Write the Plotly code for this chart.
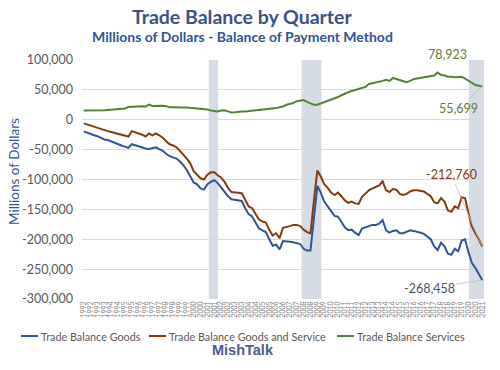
import plotly.graph_objects as go

# ---------------- data (millions of dollars, quarterly 1992Q1 - 2021Q1) ----------------
years = list(range(1992, 2022))
quarters = [f"{y} Q{q}" for y in years for q in (1, 2, 3, 4)][:117]

goods_k = [
    -19.5, -22, -23.5, -26, -27.5, -30, -33, -34, -36.5, -38,
    -41, -43, -45, -47, -41, -43, -45, -47, -48, -49,
    -47, -46, -49, -52, -57, -61, -63, -65, -70, -76,
    -84, -95, -105, -108, -115, -117, -108, -104, -101, -106,
    -113, -120, -128, -133, -134, -134, -136, -148, -158, -162,
    -172, -182, -185, -188, -200, -211, -209, -217, -203, -203,
    -204, -205, -207, -208, -216, -219, -219, -165, -111, -122,
    -137, -145, -153, -161, -162, -170, -180, -185, -184, -189,
    -193, -182, -180, -178, -176, -176, -174, -168, -185, -189,
    -186, -185, -190, -190, -188, -185, -186, -187, -189, -191,
    -195, -200, -212, -218, -206, -212, -224, -226, -216, -220,
    -202, -200, -222, -240, -248, -258, -268.458,
]
goods_services_k = [
    -6, -8, -10, -12, -14, -15.5, -17.5, -19, -20.5, -22,
    -23.5, -25, -27, -28, -19, -21, -22, -25, -28, -23,
    -26, -23, -26, -30, -36, -41, -43, -46, -52, -58,
    -65, -73, -86, -92, -98, -100, -92, -88, -88, -93,
    -97, -104, -114, -121, -121, -122, -123, -135, -145, -148,
    -157, -167, -170, -172, -184, -194, -190, -198, -181, -180,
    -178, -176, -176, -178, -184, -188, -190, -135, -85, -95,
    -108, -114, -122, -126, -122, -128, -135, -139, -137, -140,
    -141, -129, -124, -118, -115, -112, -110, -103, -118, -121,
    -116, -117, -124, -126, -124, -120, -118, -118, -119, -120,
    -124, -128, -138, -140, -131, -137, -152, -154, -145, -148,
    -130, -131, -157, -179, -190, -200, -212.760,
]
services_k = [
    15.5, 15.5, 15, 15, 15.5, 16, 16, 16.5, 17, 18,
    18, 18.5, 19, 21.5, 22, 22.5, 23, 22.5, 22, 25.5,
    23, 23.5, 24, 23.5, 22.5, 21, 21, 20.5, 20, 20.5,
    20.5, 20, 20, 19.5, 18.5, 18, 17, 15.5, 14.5, 14,
    15.5, 16, 14, 12, 12.5, 13.5, 14, 14, 14.5, 15,
    16.5, 17, 17, 17.5, 18, 19, 19.5, 21, 22, 25,
    26, 28, 31, 32.5, 33, 30, 28, 25, 25, 27,
    29, 31, 34, 36, 38, 41, 44, 46, 48, 50,
    51, 53, 55, 60, 61, 63, 64, 65, 67, 65,
    70, 68, 66, 64, 63, 65, 68, 69, 70, 71,
    71, 72, 74, 78.923, 75, 74, 72, 72, 71, 71.5,
    72, 69, 65, 61, 58, 57, 55.699,
]
goods = [v * 1000 for v in goods_k]
goods_services = [v * 1000 for v in goods_services_k]
services = [v * 1000 for v in services_k]

# recession periods (quarter category index spans)
recessions = [(36.4, 39.1), (63.4, 69.2), (112.1, 116.5)]

y_ticks = [100000, 50000, 0, -50000, -100000, -150000, -200000, -250000, -300000]

series_names = ["Trade Balance Goods", "Trade Balance Goods and Service", "Trade Balance Services"]
series_colors = ["#2F5597", "#843C0C", "#548235"]

# ---------------- figure ----------------
PL, PR, PT, PB = 82, 484, 60, 299          # plot area in window pixels
W, H = 500, 370
L, T = PL, PT
R = W - PR
B = H - PB
pw, ph = PR - PL, PB - PT


def px(xp):
    return (xp - PL) / pw


def py(yp):
    return (PB - yp) / ph


FONT = "Lato"
fig = go.Figure()
for name, vals, col in zip(series_names, [goods, goods_services, services], series_colors):
    fig.add_trace(go.Scatter(x=quarters, y=vals, mode="lines", name=name,
                             line=dict(color=col, width=2), showlegend=False))

for x0, x1 in recessions:
    fig.add_shape(type="rect", xref="x", yref="paper", x0=x0, x1=x1, y0=0, y1=1,
                  fillcolor="#D6DCE5", line=dict(width=0), layer="between")


def ptext(text, xp, yp, size, color, family=FONT, xanchor="center", **kw):
    return dict(text=text, xref="paper", yref="paper", x=px(xp), y=py(yp), showarrow=False,
                xanchor=xanchor, yanchor="middle",
                font=dict(family=family, size=size, color=color), **kw)


annotations = [
    ptext("<b>Trade Balance by Quarter</b>", 242, 17, 19.5, "#3A5284"),
    ptext("<b>Millions of Dollars - Balance of Payment Method</b>", 242, 37, 14, "#2F5597"),
    ptext("Millions of Dollars", 14, 172, 13.5, "#2F5597", textangle=-90),
    ptext("<b>MishTalk</b>", 243, 350, 14.5, "#4A5C8C", family="Liberation Sans"),
]

# data labels
lab_font = dict(family=FONT, size=12.5)
annotations.append(dict(text="78,923", x=quarters[103], y=services[103], xref="x", yref="y",
                        showarrow=False, yshift=18, xshift=10, xanchor="center", yanchor="middle",
                        font=dict(lab_font, color="#5B7F35")))
annotations.append(dict(text="55,699", x=quarters[116], y=services[116], xref="x", yref="y",
                        showarrow=True, arrowhead=0, arrowwidth=0.8, arrowcolor="#BFBFBF",
                        ax=-24, ay=22, font=dict(lab_font, color="#5B7F35")))
annotations.append(dict(text="-212,760", x=quarters[116], y=goods_services[116], xref="x", yref="y",
                        showarrow=True, arrowhead=0, arrowwidth=0.8, arrowcolor="#BFBFBF",
                        ax=-31, ay=-72, font=dict(lab_font, color="#843C0C")))
annotations.append(dict(text="-268,458", x=quarters[116], y=goods[116], xref="x", yref="y",
                        showarrow=True, arrowhead=0, arrowwidth=0.8, arrowcolor="#BFBFBF",
                        ax=-53, ay=8, font=dict(lab_font, color="#44546A")))

# manual legend
leg_items = [(21, series_names[0]), (149, series_names[1]), (337, series_names[2])]
for (x0, name), col in zip(leg_items, series_colors):
    fig.add_shape(type="line", xref="paper", yref="paper", x0=px(x0), x1=px(x0 + 17),
                  y0=py(336), y1=py(336), line=dict(color=col, width=2))
    annotations.append(ptext(name, x0 + 18, 336, 10.8, "#595959", xanchor="left"))

fig.update_layout(
    width=W, height=H, margin=dict(l=L, r=R, t=T, b=B, autoexpand=False),
    paper_bgcolor="white", plot_bgcolor="white",
    annotations=annotations, showlegend=False, hovermode=False,
    xaxis=dict(type="category", categoryorder="array", categoryarray=quarters,
               range=[-0.5, 116.5], tickmode="array", tickvals=quarters[::2],
               ticktext=[q[:4] for q in quarters[::2]], tickangle=-90, automargin=False,
               tickfont=dict(family=FONT, size=7, color="#7F7F7F"),
               showgrid=False, showline=False, ticks="", zeroline=False),
    yaxis=dict(range=[-300000, 100000], tickmode="array", tickvals=y_ticks,
               ticktext=[f"{v:,}" for v in y_ticks], showgrid=True, gridcolor="#D9D9D9",
               gridwidth=1, zeroline=False, showline=False, ticks="", automargin=False,
               ticklabelstandoff=8,
               tickfont=dict(family=FONT, size=12.5, color="#595959")),
)

# remove the browser's default 8px body margin so the 500x370 figure fills the window
fig.write_html("out.html", config={"displayModeBar": False},
               post_script="document.body.style.margin='0px';")
